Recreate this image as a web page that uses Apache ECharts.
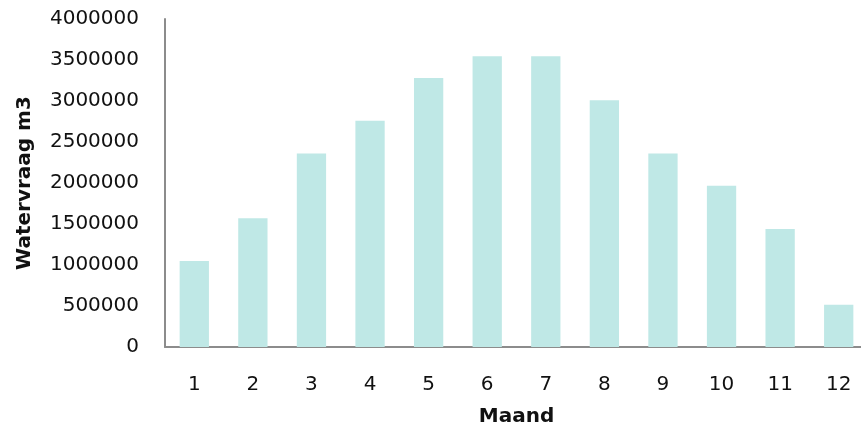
<!DOCTYPE html>
<html>
<head>
<meta charset="utf-8">
<script src="https://cdn.jsdelivr.net/npm/echarts@6/dist/echarts.min.js"></script>
<style>
html,body{margin:0;padding:0;background:#fff;}
#chart{width:861px;height:427px;}
</style>
</head>
<body>
<div id="chart"></div>
<script>
const months = ['1','2','3','4','5','6','7','8','9','10','11','12'];
const watervraag = [1050000, 1570000, 2360000, 2760000, 3280000, 3545000, 3545000, 3010000, 2360000, 1965000, 1440000, 515000];
const yAxisName = 'Watervraag m3';
const xAxisName = 'Maand';

const font = 'DejaVu Sans';
const chart = echarts.init(document.getElementById('chart'));
chart.setOption({
  animation: false,
  backgroundColor: '#ffffff',
  grid: {left: 165, width: 703, top: 19, height: 328, containLabel: false, outerBoundsMode: 'none'},
  xAxis: {
    type: 'category',
    data: months,
    name: xAxisName,
    nameLocation: 'middle',
    nameGap: 60,
    nameTextStyle: {fontFamily: font, fontSize: 20, fontWeight: 'bold', color: '#111'},
    axisLine: {show: true, lineStyle: {color: '#8c8c8c', width: 2}},
    axisTick: {show: false},
    axisLabel: {fontFamily: font, fontSize: 20, color: '#111', margin: 28},
    splitLine: {show: false}
  },
  yAxis: {
    type: 'value',
    min: 0,
    max: 4000000,
    interval: 500000,
    name: yAxisName,
    nameLocation: 'middle',
    nameGap: 130,
    nameRotate: 90,
    nameTextStyle: {fontFamily: font, fontSize: 20, fontWeight: 'bold', color: '#111'},
    axisLine: {show: true, lineStyle: {color: '#8c8c8c', width: 2}},
    axisTick: {show: false},
    axisLabel: {fontFamily: font, fontSize: 20, color: '#111', margin: 26, formatter: function (v) { return String(v); }},
    splitLine: {show: false}
  },
  series: [{
    type: 'bar',
    data: watervraag,
    barWidth: '50%',
    itemStyle: {color: '#bfe8e6'}
  }]
});
</script>
</body>
</html>
